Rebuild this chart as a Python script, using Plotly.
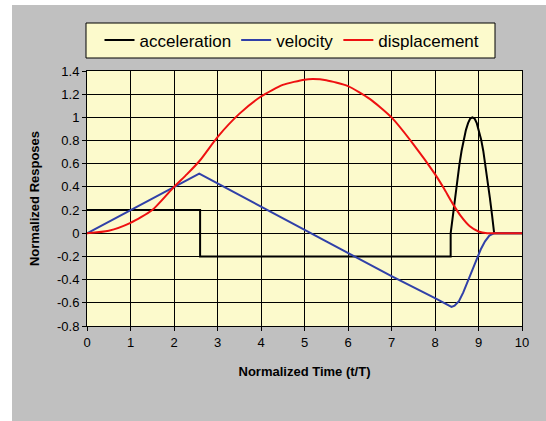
import plotly.graph_objects as go

# Normalized time samples (t/T) and the three normalized responses
acc_t = [0, 2.6, 2.6, 8.36, 8.36, 8.41, 8.46, 8.51, 8.56, 8.61, 8.66, 8.71, 8.76, 8.81,
         8.86, 8.91, 8.96, 9.01, 9.06, 9.11, 9.16, 9.21, 9.26, 9.31, 9.36, 10]
acc_v = [0.2, 0.2, -0.2, -0.2, 0.0, 0.16, 0.31, 0.45, 0.59, 0.71, 0.81, 0.89, 0.95, 0.99,
         1.0, 0.99, 0.95, 0.89, 0.81, 0.71, 0.59, 0.45, 0.31, 0.16, 0.0, 0.0]

vel_t = [0, 1, 2, 2.58, 4, 5, 6, 7, 8, 8.38, 8.45, 8.55, 8.65, 8.75, 8.85, 8.95,
         9.05, 9.15, 9.25, 9.35, 10]
vel_v = [0, 0.2, 0.4, 0.515, 0.23, 0.03, -0.17, -0.37, -0.56, -0.635, -0.625, -0.585,
         -0.51, -0.42, -0.325, -0.23, -0.14, -0.07, -0.02, 0.0, 0.0]

disp_t = [0, 0.5, 1, 1.5, 2, 2.3, 2.6, 3, 3.5, 4, 4.5, 5, 5.2, 5.5, 6, 6.5, 7, 7.5, 8,
          8.2, 8.4, 8.6, 8.8, 9.0, 9.2, 9.4, 10]
disp_v = [0, 0.022, 0.09, 0.2, 0.4, 0.51, 0.63, 0.83, 1.03, 1.18, 1.28, 1.325, 1.33,
          1.32, 1.27, 1.16, 1.0, 0.77, 0.51, 0.39, 0.26, 0.145, 0.06, 0.015, 0.0, 0.0, 0.0]

x_ticks = list(range(0, 11))
y_ticks = [-0.8, -0.6, -0.4, -0.2, 0, 0.2, 0.4, 0.6, 0.8, 1, 1.2, 1.4]
y_labels = ["-0.8", "-0.6", "-0.4", "-0.2", "0", "0.2", "0.4", "0.6", "0.8", "1", "1.2", "1.4"]

fig = go.Figure()
fig.add_trace(go.Scatter(x=acc_t, y=acc_v, mode="lines", name="acceleration",
                         line=dict(color="#000000", width=2)))
fig.add_trace(go.Scatter(x=vel_t, y=vel_v, mode="lines", name="velocity",
                         line=dict(color="#3040A8", width=2)))
fig.add_trace(go.Scatter(x=disp_t, y=disp_v, mode="lines", name="displacement",
                         line=dict(color="#EE1111", width=2, shape="spline", smoothing=0.6)))

family = "Arial, Liberation Sans, sans-serif"
tick_font = dict(family=family, size=13, color="#000000")
title_font = dict(family=family, size=13, color="#000000")

# plot area spans 435 x 255 px; helpers convert page pixels to paper units
PW, PH, L, T = 435.0, 255.0, 87.0, 71.0
px = lambda x: (x - L) / PW
py = lambda y: 1 + (T - y) / PH

fig.update_layout(
    width=546, height=421,
    margin=dict(l=87, r=24, t=71, b=95),
    paper_bgcolor="#C0C0C0",
    plot_bgcolor="#FCFACC",
    font=tick_font,
    showlegend=True,
    legend=dict(
        orientation="h",
        x=px(292), xanchor="center",
        y=py(40.5), yanchor="middle",
        bgcolor="rgba(0,0,0,0)",
        borderwidth=0,
        font=dict(family=family, size=17, color="#000000"),
        itemwidth=30,
        traceorder="normal",
    ),
    xaxis=dict(
        range=[0, 10], tickvals=x_ticks, ticktext=[str(v) for v in x_ticks],
        tickfont=tick_font,
        showgrid=True, gridcolor="#000000", gridwidth=1,
        showline=True, linecolor="#000000", linewidth=1, mirror=True,
        ticks="outside", ticklen=4, tickcolor="#000000",
        zeroline=False,
        title=dict(text="<b>Normalized Time (t/T)</b>", font=title_font, standoff=18),
    ),
    yaxis=dict(
        range=[-0.8, 1.4], tickvals=y_ticks, ticktext=y_labels,
        tickfont=tick_font,
        showgrid=True, gridcolor="#000000", gridwidth=1,
        showline=True, linecolor="#000000", linewidth=1, mirror=True,
        ticks="outside", ticklen=4, tickcolor="#000000",
        zeroline=False,
        title=dict(text="<b>Normalized Resposes</b>", font=title_font, standoff=14),
    ),
    shapes=[
        # white strips at the left and top edges of the page
        dict(type="rect", xref="paper", yref="paper", x0=-0.25, x1=px(12),
             y0=-0.5, y1=1.5, fillcolor="#FFFFFF", line=dict(width=0), layer="below"),
        dict(type="rect", xref="paper", yref="paper", x0=-0.25, x1=1.2,
             y0=py(5), y1=1.5, fillcolor="#FFFFFF", line=dict(width=0), layer="below"),
        # legend frame
        dict(type="rect", xref="paper", yref="paper", x0=px(86), x1=px(495),
             y0=py(58), y1=py(23), fillcolor="#FCFACC",
             line=dict(color="#000000", width=1), layer="below"),
    ],
)

fig.write_html("out.html")
